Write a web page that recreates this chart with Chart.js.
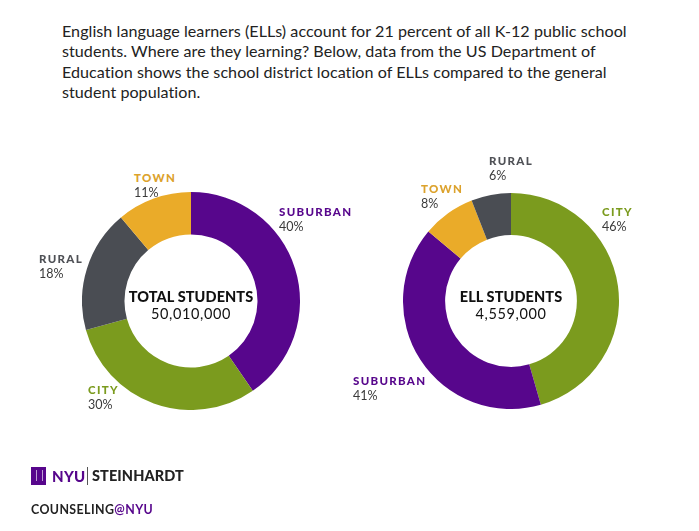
<!DOCTYPE html>
<html><head><meta charset="utf-8">
<script src="https://cdn.jsdelivr.net/npm/chart.js@4/dist/chart.umd.min.js"></script>
<style>
html,body{margin:0;padding:0;background:#fff;width:699px;height:531px;overflow:hidden;font-family:Lato,"Open Sans",sans-serif;}
#intro{position:absolute;left:62px;top:21px;font-size:16.1px;line-height:20.3px;color:#222;letter-spacing:0.05px;}
canvas{position:absolute;}
.lab{position:absolute;font-size:11.5px;line-height:14px;font-weight:900;letter-spacing:1.3px;white-space:nowrap;}
.pct{position:absolute;font-size:12.5px;line-height:14px;color:#3a3a3a;white-space:nowrap;}
.ctr{position:absolute;text-align:center;width:160px;color:#111;}
.ctr b{display:block;font-size:14.5px;line-height:17px;font-weight:900;letter-spacing:0.1px;}
.ctr span{display:block;font-size:14.5px;line-height:17px;letter-spacing:0.6px;}
</style></head><body>
<div id="intro">English language learners (ELLs) account for 21 percent of all K-12 public school<br>students. Where are they learning? Below, data from the US Department of<br>Education shows the school district location of ELLs compared to the general<br>student population.</div>

<canvas id="c1" width="218" height="218" style="left:82px;top:192px;width:218px;height:218px"></canvas>
<canvas id="c2" width="216" height="216" style="left:403px;top:193px;width:216px;height:216px"></canvas>
<div id="labels"></div>

<div style="position:absolute;left:31px;top:467px;width:15px;height:18px;background:#57068c;"></div>
<div style="position:absolute;left:36px;top:470px;width:5px;height:11px;border-left:1px solid #d8c6e6;border-right:1px solid #d8c6e6;opacity:.8"></div>
<div style="position:absolute;left:52px;top:467px;font-size:15px;line-height:18px;font-weight:900;color:#57068c;letter-spacing:0.3px;">NYU</div>
<div style="position:absolute;left:87px;top:467px;width:1px;height:18px;background:#555;"></div>
<div style="position:absolute;left:92px;top:467px;font-size:14.5px;line-height:18px;font-weight:900;color:#222;letter-spacing:0.1px;">STEINHARDT</div>
<div style="position:absolute;left:31px;top:503px;font-size:12.4px;line-height:14px;font-weight:700;color:#222;letter-spacing:0.4px;">COUNSELING<span style="color:#57068c">@NYU</span></div>

<script>
// Data
const totalCategories = ["SUBURBAN","CITY","RURAL","TOWN"];
const totalValues = [40,30,18,11];
const ellCategories = ["CITY","SUBURBAN","TOWN","RURAL"];
const ellValues = [46,41,8,6];
const centerTitles = ["TOTAL STUDENTS","ELL STUDENTS"];
const centerNumbers = ["50,010,000","4,559,000"];

const colorMap = {SUBURBAN:"#57068c",CITY:"#7b9b1e",RURAL:"#4a4d53",TOWN:"#eaab29"};
const labelColorMap = {SUBURBAN:"#57068c",CITY:"#7b9b1e",RURAL:"#4f5156",TOWN:"#dca22c"};

function makeChart(id, cats, vals){
  return new Chart(document.getElementById(id), {
    type:'doughnut',
    data:{labels:cats,datasets:[{data:vals,backgroundColor:cats.map(c=>colorMap[c]),borderWidth:0,hoverOffset:0,offset:0}]},
    options:{responsive:false,devicePixelRatio:1,animation:false,cutout:'61%',
      plugins:{legend:{display:false},tooltip:{enabled:false}},
      layout:{padding:0}}
  });
}
makeChart('c1', totalCategories, totalValues);
makeChart('c2', ellCategories, ellValues);

// label placement (layout only)
const leftPlace = {SUBURBAN:[279,205],CITY:[88,383],RURAL:[39,252],TOWN:[134,171]};
const rightPlace = {CITY:[602,205],SUBURBAN:[353,374],TOWN:[421,182],RURAL:[489,154]};
const L = document.getElementById('labels');
function addLabels(cats, vals, place){
  cats.forEach((c,i)=>{
    const [x,y]=place[c];
    const a=document.createElement('div');a.className='lab';a.style.left=x+'px';a.style.top=y+'px';a.style.color=labelColorMap[c];a.textContent=c;L.appendChild(a);
    const b=document.createElement('div');b.className='pct';b.style.left=x+'px';b.style.top=(y+15)+'px';b.textContent=vals[i]+'%';L.appendChild(b);
  });
}
addLabels(totalCategories,totalValues,leftPlace);
addLabels(ellCategories,ellValues,rightPlace);
[[191,0],[511,1]].forEach(([cx,k])=>{
  const d=document.createElement('div');d.className='ctr';d.style.left=(cx-80)+'px';d.style.top='288px';
  d.innerHTML='<b>'+centerTitles[k]+'</b><span>'+centerNumbers[k]+'</span>';L.appendChild(d);
});
</script>
</body></html>
